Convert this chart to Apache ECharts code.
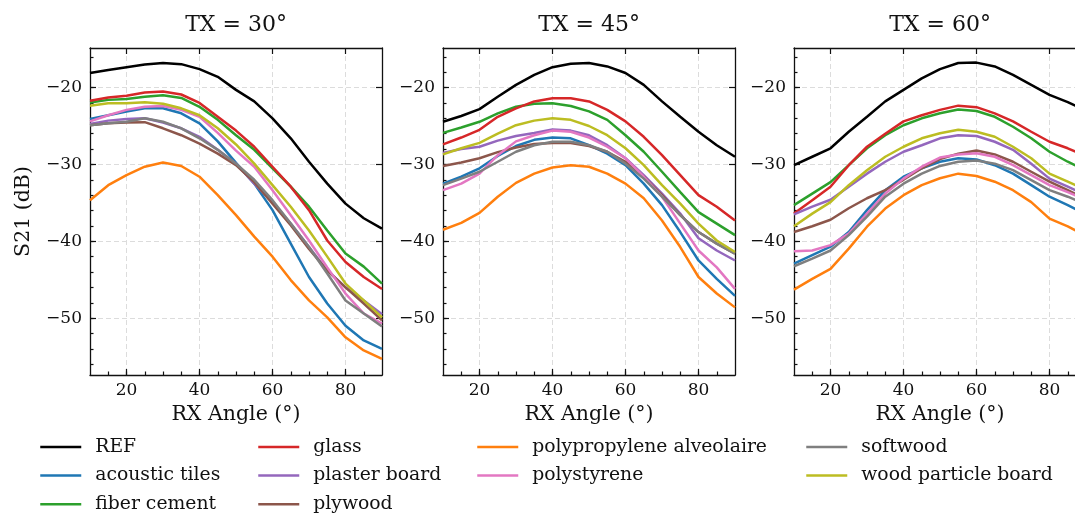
<!DOCTYPE html>
<html>
<head>
<meta charset="utf-8">
<script src="https://cdn.jsdelivr.net/npm/echarts@6/dist/echarts.min.js"></script>
<style>
  html, body { margin: 0; padding: 0; background: #fff; overflow: hidden; }
  #chart { width: 1090px; height: 514px; }
</style>
</head>
<body>
<div id="chart"></div>
<script>
// RX angles (deg)
const rxAngles = [10, 15, 20, 25, 30, 35, 40, 45, 50, 55, 60, 65, 70, 75, 80, 85, 90];

const materials = ["REF", "acoustic tiles", "fiber cement", "glass", "plaster board",
  "plywood", "polypropylene alveolaire", "polystyrene", "softwood", "wood particle board"];

const txTitles = ["TX = 30°", "TX = 45°", "TX = 60°"];

// S21 (dB), one row per material, same order as materials
const s21Tx30 = [
  [-18.1, -17.7, -17.35, -17.0, -16.8, -16.95, -17.6, -18.6, -20.3, -21.8, -24.0, -26.6, -29.65, -32.5, -35.1, -37.0, -38.35],
  [-24.1, -23.6, -23.1, -22.7, -22.7, -23.35, -24.65, -27.0, -29.8, -32.5, -35.95, -40.3, -44.65, -48.1, -51.0, -52.9, -54.0],
  [-21.95, -21.6, -21.5, -21.2, -21.0, -21.35, -22.5, -24.2, -26.2, -28.1, -30.5, -32.9, -35.5, -38.6, -41.6, -43.3, -45.5],
  [-21.7, -21.3, -21.05, -20.65, -20.5, -20.9, -22.0, -23.8, -25.6, -27.7, -30.3, -32.9, -35.95, -39.9, -42.7, -44.65, -46.2],
  [-24.75, -24.3, -24.1, -24.0, -24.55, -25.3, -26.4, -28.1, -29.9, -32.5, -34.9, -37.7, -40.75, -43.8, -46.0, -47.7, -49.5],
  [-24.9, -24.65, -24.55, -24.5, -25.3, -26.2, -27.3, -28.6, -30.1, -32.3, -35.1, -37.9, -41.0, -43.8, -46.0, -48.1, -50.3],
  [-34.65, -32.7, -31.4, -30.3, -29.75, -30.2, -31.6, -34.0, -36.6, -39.4, -42.0, -45.05, -47.7, -49.9, -52.5, -54.2, -55.3],
  [-24.4, -23.6, -22.9, -22.5, -22.4, -22.9, -23.8, -25.9, -28.2, -30.3, -33.35, -36.6, -39.9, -43.4, -46.8, -49.4, -50.7],
  [-24.9, -24.65, -24.45, -24.0, -24.45, -25.3, -26.6, -28.1, -29.9, -32.0, -34.65, -37.7, -40.75, -44.2, -47.7, -49.4, -51.1],
  [-22.35, -22.05, -22.05, -21.9, -22.1, -22.7, -23.6, -25.3, -27.4, -29.9, -32.7, -35.5, -38.6, -42.0, -45.5, -47.7, -49.9]
];

const s21Tx45 = [
  [-24.45, -23.7, -22.8, -21.2, -19.65, -18.35, -17.35, -16.9, -16.8, -17.25, -18.1, -19.65, -21.8, -23.8, -25.75, -27.5, -29.0],
  [-32.5, -31.6, -30.5, -28.9, -27.6, -26.8, -26.5, -26.6, -27.5, -28.6, -30.1, -32.5, -35.3, -38.8, -42.5, -44.9, -47.1],
  [-25.9, -25.2, -24.45, -23.35, -22.5, -22.1, -22.05, -22.4, -23.1, -24.2, -26.2, -28.35, -30.95, -33.6, -36.2, -37.7, -39.2],
  [-27.4, -26.5, -25.5, -23.8, -22.7, -21.8, -21.4, -21.4, -21.8, -22.9, -24.4, -26.4, -28.8, -31.4, -34.0, -35.5, -37.3],
  [-28.5, -28.0, -27.7, -26.9, -26.3, -25.9, -25.45, -25.6, -26.2, -27.5, -29.2, -31.4, -33.8, -36.4, -39.6, -41.2, -42.5],
  [-30.2, -29.75, -29.2, -28.4, -27.8, -27.35, -27.2, -27.2, -27.6, -28.35, -29.65, -31.6, -34.0, -36.6, -38.8, -40.3, -41.6],
  [-38.5, -37.6, -36.3, -34.2, -32.4, -31.2, -30.4, -30.1, -30.3, -31.2, -32.5, -34.4, -37.3, -40.75, -44.65, -46.8, -48.6],
  [-33.35, -32.5, -31.2, -28.8, -27.0, -26.2, -25.6, -25.75, -26.5, -27.7, -29.2, -31.6, -34.2, -37.7, -41.2, -43.4, -46.2],
  [-32.7, -31.85, -30.95, -29.65, -28.35, -27.5, -27.05, -27.05, -27.5, -28.35, -29.9, -31.85, -34.2, -36.6, -38.8, -40.3, -41.6],
  [-28.7, -27.9, -27.2, -26.0, -24.9, -24.3, -24.0, -24.2, -25.0, -26.2, -27.9, -30.1, -32.7, -35.1, -37.7, -39.9, -41.4]
];

const s21Tx60 = [
  [-30.1, -29.0, -27.9, -25.75, -23.8, -21.8, -20.3, -18.8, -17.6, -16.8, -16.75, -17.25, -18.35, -19.65, -20.95, -21.9, -23.0],
  [-42.9, -41.8, -40.7, -38.8, -35.95, -33.35, -31.6, -30.5, -29.65, -29.2, -29.35, -30.1, -31.2, -32.7, -34.2, -35.3, -36.5],
  [-35.3, -33.8, -32.3, -30.1, -27.9, -26.2, -24.9, -24.0, -23.35, -22.85, -23.05, -23.8, -25.1, -26.6, -28.35, -29.65, -30.8],
  [-36.4, -34.65, -32.9, -30.1, -27.7, -26.0, -24.4, -23.6, -22.9, -22.35, -22.55, -23.35, -24.4, -25.75, -27.05, -27.9, -28.9],
  [-36.5, -35.5, -34.6, -32.9, -31.2, -29.65, -28.35, -27.5, -26.6, -26.2, -26.3, -27.05, -28.1, -29.9, -31.85, -32.9, -34.0],
  [-38.8, -38.05, -37.2, -35.7, -34.4, -33.35, -32.0, -30.5, -29.3, -28.6, -28.2, -28.7, -29.65, -30.95, -32.25, -33.35, -34.5],
  [-46.3, -44.9, -43.6, -40.95, -38.1, -35.75, -34.0, -32.7, -31.8, -31.2, -31.5, -32.25, -33.35, -34.9, -37.05, -38.05, -39.3],
  [-41.3, -41.2, -40.5, -39.0, -36.4, -33.8, -31.85, -30.3, -29.1, -28.7, -28.55, -29.0, -30.1, -31.4, -32.7, -33.6, -34.6],
  [-43.25, -42.25, -41.2, -39.2, -36.8, -34.2, -32.5, -31.2, -30.2, -29.65, -29.5, -29.9, -30.75, -32.05, -33.35, -34.2, -35.2],
  [-38.05, -36.4, -34.9, -32.7, -30.75, -29.0, -27.7, -26.6, -25.95, -25.5, -25.75, -26.4, -27.7, -29.2, -31.2, -32.25, -33.3]
];

// tick values
const xMajorTicks = [20, 40, 60, 80];
const xMinorTicks = [15, 20, 25, 30, 35, 40, 45, 50, 55, 60, 65, 70, 75, 80, 85];
const yMajorTicks = [-50, -40, -30, -20];
const yMinorTicks = [-56, -54, -52, -50, -48, -46, -44, -42, -40, -38, -36, -34, -32, -30,
  -28, -26, -24, -22, -20, -18, -16];

const colors = ["#000000", "#1f77b4", "#2ca02c", "#d62728", "#9467bd",
  "#8c564b", "#ff7f0e", "#e377c2", "#7f7f7f", "#bcbd22"];

const FONT = "DejaVu Serif";
const panels = [s21Tx30, s21Tx45, s21Tx60];
const gridLefts = [90, 443, 794];
const gridTop = 48, gridW = 292, gridH = 327;
const yMin = -57.4, yMax = -14.85;

var chart = echarts.init(document.getElementById("chart"));

var frame = { show: true, onZero: false, lineStyle: { color: "#111", width: 1.3 } };
var tickStyle = { color: "#111", width: 1.2 };
var gridLine = { show: true, lineStyle: { color: "#dcdcdc", width: 1, type: [5, 3] } };
var minus = function (v) { return String(v).replace("-", "\u2212"); };

function majorTick(vals) {
  return { show: true, inside: true, length: 6, customValues: vals, lineStyle: tickStyle };
}
function minorTick(vals) {
  return { show: true, inside: true, length: 3.5, customValues: vals, lineStyle: tickStyle };
}

var grids = [], xAxes = [], yAxes = [], titles = [], series = [];

panels.forEach(function (rows, g) {
  grids.push({ left: gridLefts[g], top: gridTop, width: gridW, height: gridH });
  titles.push({
    text: txTitles[g], left: gridLefts[g] + gridW / 2, top: 14, textAlign: "center", padding: 0,
    textStyle: { fontFamily: FONT, fontSize: 22, fontWeight: "normal", color: "#111" }
  });

  // bottom major, bottom minor, top major
  xAxes.push({
    gridIndex: g, type: "value", position: "bottom", min: 10, max: 90,
    axisLine: frame,
    axisTick: majorTick(xMajorTicks),
    axisLabel: { customValues: xMajorTicks, fontFamily: FONT, fontSize: 17, color: "#111", margin: 7 },
    splitLine: gridLine,
    name: "RX Angle (°)", nameLocation: "middle", nameGap: 27,
    nameTextStyle: { fontFamily: FONT, fontSize: 20.5, color: "#111" }
  });
  xAxes.push({
    gridIndex: g, type: "value", position: "bottom", min: 10, max: 90,
    axisLine: { show: false },
    axisTick: minorTick(xMinorTicks),
    axisLabel: { show: false }, splitLine: { show: false }
  });
  xAxes.push({
    gridIndex: g, type: "value", position: "top", min: 10, max: 90,
    axisLine: frame,
    axisTick: majorTick(xMajorTicks),
    axisLabel: { show: false }, splitLine: { show: false }
  });

  // left major, left minor, right major
  yAxes.push({
    gridIndex: g, type: "value", position: "left", min: yMin, max: yMax,
    axisLine: frame,
    axisTick: majorTick(yMajorTicks),
    axisLabel: { customValues: yMajorTicks, formatter: minus, fontFamily: FONT, fontSize: 17, color: "#111", margin: 8 },
    splitLine: gridLine,
    name: g === 0 ? "S21 (dB)" : "", nameLocation: "middle", nameGap: 56,
    nameTextStyle: { fontFamily: FONT, fontSize: 20.5, color: "#111" }
  });
  yAxes.push({
    gridIndex: g, type: "value", position: "left", min: yMin, max: yMax,
    axisLine: { show: false },
    axisTick: minorTick(yMinorTicks),
    axisLabel: { show: false }, splitLine: { show: false }
  });
  yAxes.push({
    gridIndex: g, type: "value", position: "right", min: yMin, max: yMax,
    axisLine: frame,
    axisTick: majorTick(yMajorTicks),
    axisLabel: { show: false }, splitLine: { show: false }
  });

  rows.forEach(function (vals, m) {
    series.push({
      name: materials[m], type: "line", xAxisIndex: g * 3, yAxisIndex: g * 3,
      data: rxAngles.map(function (a, i) { return [a, vals[i]]; }),
      symbol: "none", clip: true,
      lineStyle: { width: 2.5, color: colors[m] }, itemStyle: { color: colors[m] }
    });
  });
});

// legend: 4 columns, filled column by column
var legendCols = [
  materials.slice(0, 3), materials.slice(3, 6), materials.slice(6, 8), materials.slice(8, 10)
];
var legendLefts = [39, 257, 476, 805];
var legends = legendCols.map(function (names, c) {
  return {
    data: names, orient: "vertical", left: legendLefts[c], top: 436, height: 120, padding: 0,
    itemWidth: 41, itemHeight: 14, itemGap: 6.6,
    itemStyle: { opacity: 0 },
    lineStyle: { width: 2.5 },
    textStyle: { fontFamily: FONT, fontSize: 18.8, lineHeight: 22, color: "#111", padding: [0, 0, 0, 9] }
  };
});

var option = {
  animation: false,
  backgroundColor: "#fff",
  title: titles,
  grid: grids,
  xAxis: xAxes,
  yAxis: yAxes,
  legend: legends,
  series: series
};

option && chart.setOption(option);
</script>
</body>
</html>
